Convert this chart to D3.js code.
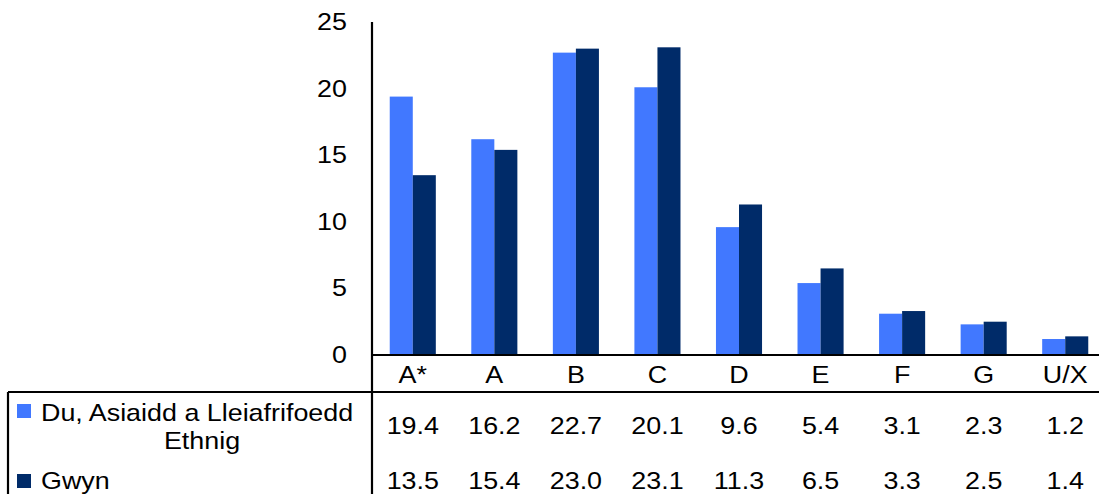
<!DOCTYPE html>
<html>
<head>
<meta charset="utf-8">
<script src="https://cdn.jsdelivr.net/npm/d3@7"></script>
<style>
  body { margin: 0; background: #fff; }
  text { font-family: Arial, "Liberation Sans", sans-serif; fill: #000; font-size: 24px; }
</style>
</head>
<body>
<div id="container"></div>
<script>
const categories = ["A*", "A", "B", "C", "D", "E", "F", "G", "U/X"]
const seriesNames = ["Du, Asiaidd a Lleiafrifoedd Ethnig", "Gwyn"]
const bameValues = [19.4, 16.2, 22.7, 20.1, 9.6, 5.4, 3.1, 2.3, 1.2]
const whiteValues = [13.5, 15.4, 23.0, 23.1, 11.3, 6.5, 3.3, 2.5, 1.4]
const yTicks = [0, 5, 10, 15, 20, 25]
const colors = ["#4178ff", "#002b69"]

const W = 1099, H = 494
const plotLeft = 372, plotRight = 1106, plotTop = 22, zeroY = 355
const catRowBottom = 392
const stretch = 1.12

const svg = d3.select("#container").append("svg")
  .attr("width", W).attr("height", H)

const x = d3.scaleBand().domain(categories).range([plotLeft, plotRight]).paddingInner(0).paddingOuter(0)
const y = d3.scaleLinear().domain([0, 25]).range([zeroY, plotTop])
const inner = d3.scaleBand().domain([0, 1]).range([0, x.bandwidth()]).paddingInner(0).paddingOuter(0.77)

const series = [bameValues, whiteValues]

// text helper, the original font is a bit wider than Arial
function label(g, tx, ty, str, anchor) {
  return g.append("text")
    .attr("transform", `translate(${tx},${ty}) scale(${stretch},1)`)
    .attr("text-anchor", anchor || "start")
    .text(str)
}

// bars
series.forEach((vals, si) => {
  svg.append("g").selectAll("rect")
    .data(vals)
    .enter().append("rect")
    .attr("x", (d, i) => x(categories[i]) + inner(si))
    .attr("width", inner.bandwidth())
    .attr("y", d => y(d))
    .attr("height", d => y(0) - y(d))
    .attr("fill", colors[si])
})

// y tick labels
const yg = svg.append("g")
yTicks.forEach(t => label(yg, 347, y(t) + 8, t, "end"))

// axis lines
const lines = svg.append("g").attr("stroke", "#000").attr("stroke-width", 2.2)
lines.append("line").attr("x1", plotLeft).attr("x2", plotLeft).attr("y1", plotTop).attr("y2", H)
lines.append("line").attr("x1", plotLeft).attr("x2", plotRight).attr("y1", zeroY).attr("y2", zeroY)
lines.append("line").attr("x1", 8).attr("x2", plotRight).attr("y1", catRowBottom).attr("y2", catRowBottom)
lines.append("line").attr("x1", 8).attr("x2", 8).attr("y1", catRowBottom).attr("y2", H)

// category labels
const cg = svg.append("g")
categories.forEach(c => label(cg, x(c) + x.bandwidth() / 2, 383, c, "middle"))

// data table values
const rowY = [434, 489]
series.forEach((vals, si) => {
  const g = svg.append("g")
  vals.forEach((v, i) => label(g, x(categories[i]) + x.bandwidth() / 2, rowY[si], v.toFixed(1), "middle"))
})

// legend keys
const lg = svg.append("g")
lg.append("rect").attr("x", 17).attr("y", 404).attr("width", 14).attr("height", 14).attr("fill", colors[0])
lg.append("rect").attr("x", 17).attr("y", 474).attr("width", 14).attr("height", 14).attr("fill", colors[1])
label(lg, 41, 421, "Du, Asiaidd a Lleiafrifoedd")
label(lg, 202, 449, "Ethnig", "middle")
label(lg, 41, 489, seriesNames[1])
</script>
</body>
</html>
